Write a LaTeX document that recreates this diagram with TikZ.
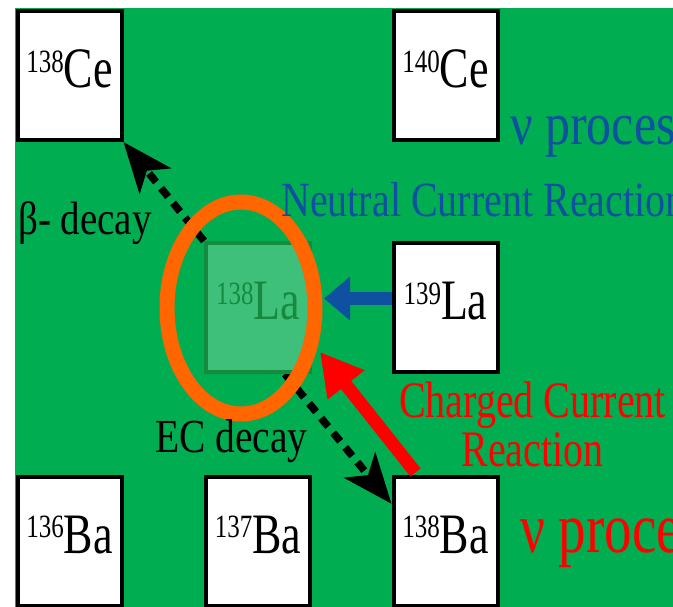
\documentclass[tikz,border=0pt]{standalone}
\usepackage{fontspec}
\setmainfont{Liberation Serif}
\usetikzlibrary{arrows.meta,calc}
\pgfdeclarelayer{back}
\pgfsetlayers{back,main}
\definecolor{bggreen}{RGB}{0,173,80}
\definecolor{nublue}{RGB}{16,80,160}
\definecolor{hilite}{RGB}{255,102,0}
\definecolor{lafill}{RGB}{62,192,122}
\definecolor{ladraw}{RGB}{22,138,62}
\newcommand{\ytall}[2]{\scalebox{1}[#1]{#2}}
\newcommand{\nuc}[2]{\ytall{1.3}{\fontsize{44}{44}\selectfont\raisebox{12pt}{\fontsize{25}{25}\selectfont #1}#2}}
\tikzset{
  nucbox/.style={draw=black,line width=4pt,fill=white,minimum width=104pt,
    minimum height=129pt,inner sep=0pt,text depth=13pt},
  decayarrow/.style={line width=7.5pt,dash pattern=on 11pt off 8pt,
    -{Stealth[length=50pt,width=40pt,inset=13pt]}},
  ncarrow/.style={nublue,line width=13pt,-{Triangle[length=26pt,width=42pt]}},
  ccarrow/.style={red,line width=13pt,-{Triangle[length=42pt,width=44pt]}},
  lbl/.style={anchor=base west,inner sep=0pt}
}
\begin{document}
\begin{tikzpicture}[x=1pt,y=-1pt]
\useasboundingbox (0,0) rectangle (673,607);
\clip (0,0) rectangle (673,607);
\begin{pgfonlayer}{back}
  \fill[white] (0,0) rectangle (673,607);
  \fill[bggreen] (15,8) rectangle (673,607);
\end{pgfonlayer}
% isotopes
\foreach \n/\a/\el/\x/\y in {Ce138/138/Ce/69.5/75.5,Ce140/140/Ce/445.5/75.5,
  La139/139/La/445.5/307.5,Ba136/136/Ba/69.5/541,Ba137/137/Ba/258/541,
  Ba138/138/Ba/445.5/541}
  \node[nucbox] (\n) at (\x,\y) {\nuc{\a}{\el}};
\node[nucbox,draw=ladraw,fill=lafill,text=ladraw] (La138) at (258,307.5) {\nuc{138}{La}};
% decays, kept under the 138La box
\begin{pgfonlayer}{back}
  \draw[decayarrow] (La138.north west) -- (Ce138.south east);
  \draw[decayarrow] ($(La138.south)!0.5!(La138.south east)$)
    -- ($(Ba138.north west)!0.22!(Ba138.south west)$);
\end{pgfonlayer}
\draw[hilite,line width=15pt] (241,308) ellipse [x radius=74pt,y radius=106pt];
% reactions
\draw[ncarrow] ($(La139.west)+(0,-9)$) -- ($(La138.east)+(12,-9)$);
\draw[ccarrow] ($(Ba138.north)+(-30,-2)$) -- ($(La138.south east)+(8,-22)$);
% labels
\node[lbl,font=\fontsize{39}{39}\selectfont] (betalbl) at (18,235) {\ytall{1.2}{β- decay}};
\node[lbl,font=\fontsize{39.5}{39.5}\selectfont] (eclbl) at (155,452) {\ytall{1.2}{EC decay}};
\node[lbl,nublue,font=\fontsize{40}{40}\selectfont] (nclbl) at (281,217) {\ytall{1.23}{Neutral Current Reaction}};
\node[lbl,nublue,font=\fontsize{50}{50}\selectfont] (nuproctop) at (510,145) {\ytall{1.2}{ν process}};
\node[anchor=base,inner sep=0pt,red,font=\fontsize{40}{40}\selectfont] (cclbla) at (532.5,417) {\ytall{1.28}{Charged Current}};
\node[anchor=base,inner sep=0pt,red,font=\fontsize{40}{40}\selectfont] (cclblb) at (532.5,466) {\ytall{1.28}{Reaction}};
\node[lbl,red,font=\fontsize{55}{55}\selectfont] (nuprocbot) at (520,552) {\ytall{1.3}{ν process}};
\end{tikzpicture}
\end{document}
